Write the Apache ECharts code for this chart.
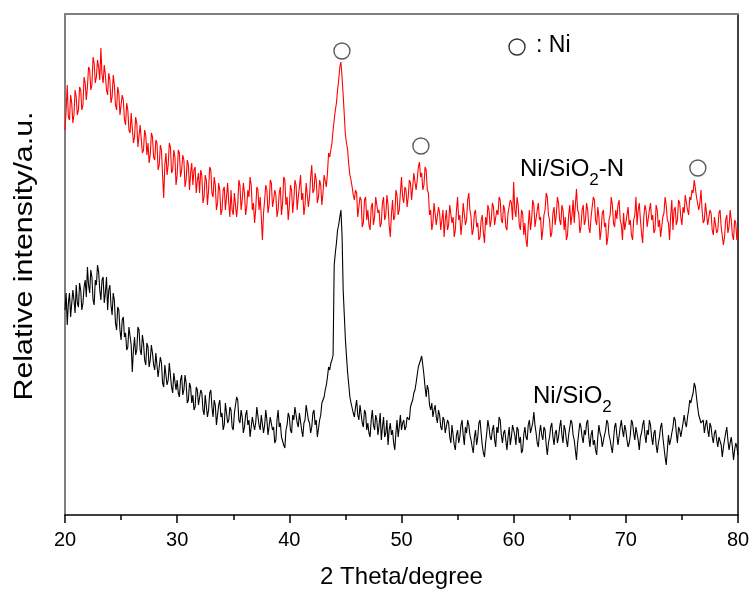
<!DOCTYPE html>
<html>
<head>
<meta charset="utf-8">
<script src="https://cdn.jsdelivr.net/npm/echarts@6/dist/echarts.min.js"></script>
<style>
  html, body { margin: 0; padding: 0; background: #fff; }
  #chart { width: 754px; height: 595px; }
</style>
</head>
<body>
<div id="chart"></div>
<script>
// 2θ sampling grid (degrees)
const thetaStart = 20;
const thetaStep = 0.1;

// Ni/SiO2-N (red), relative intensity, 10 values per degree (20.0 ... 80.0)
const ni_sio2_n = [
  385, 405, 430, 398, 395, 420, 412, 392, 400, 425,
  418, 400, 405, 428, 425, 405, 410, 438, 432, 415,
  428, 448, 445, 425, 430, 458, 452, 432, 438, 455,
  448, 435, 467, 440, 432, 450, 440, 425, 420, 442,
  435, 412, 418, 440, 430, 410, 405, 428, 422, 400,
  398, 420, 415, 395, 390, 412, 405, 385, 382, 402,
  400, 372, 378, 398, 392, 368, 370, 390, 388, 362,
  365, 385, 380, 360, 372, 352, 360, 382, 378, 358,
  355, 375, 372, 345, 350, 370, 365, 340, 317, 350,
  362, 340, 350, 372, 368, 342, 345, 365, 358, 330,
  340, 365, 362, 338, 345, 360, 355, 328, 335, 355,
  350, 325, 342, 352, 330, 345, 348, 322, 335, 342,
  322, 345, 340, 312, 318, 340, 335, 310, 325, 348,
  345, 322, 318, 338, 330, 305, 312, 332, 325, 300,
  305, 325, 328, 305, 318, 332, 312, 298, 325, 305,
  300, 322, 320, 298, 310, 335, 330, 305, 315, 332,
  322, 300, 308, 325, 318, 338, 330, 305, 312, 292,
  305, 328, 325, 305, 318, 298, 275, 302, 315, 330,
  325, 302, 310, 335, 332, 308, 315, 325, 320, 298,
  305, 322, 328, 300, 312, 338, 335, 310, 318, 295,
  308, 330, 325, 302, 315, 335, 330, 305, 318, 328,
  340, 315, 322, 300, 310, 332, 330, 308, 318, 338,
  350, 322, 325, 342, 335, 312, 318, 335, 330, 310,
  322, 340, 338, 328, 342, 362, 358, 365, 372, 385,
  395, 405, 412, 425, 435, 448, 453, 438, 420, 400,
  380, 372, 365, 350, 340, 335, 328, 320, 315, 325,
  322, 298, 300, 318, 315, 288, 292, 315, 318, 295,
  305, 290, 285, 308, 312, 290, 298, 318, 320, 302,
  305, 288, 292, 312, 318, 295, 300, 320, 310, 290,
  278, 300, 315, 295, 298, 325, 320, 300, 305, 322,
  338, 318, 312, 328, 325, 308, 318, 335, 332, 315,
  328, 342, 340, 325, 335, 348, 353, 338, 342, 325,
  330, 348, 345, 325, 322, 300, 305, 285, 292, 312,
  310, 290, 288, 308, 302, 285, 295, 305, 278, 295,
  305, 285, 290, 310, 312, 292, 298, 278, 285, 305,
  318, 295, 300, 280, 292, 312, 310, 290, 295, 315,
  322, 305, 298, 280, 285, 302, 305, 288, 292, 275,
  278, 295, 300, 282, 272, 298, 290, 310, 305, 288,
  295, 312, 308, 290, 288, 305, 300, 318, 315, 295,
  292, 310, 305, 288, 285, 302, 300, 315, 312, 295,
  333, 305, 298, 318, 310, 290, 285, 305, 302, 280,
  292, 275, 268, 290, 305, 285, 295, 315, 310, 288,
  290, 305, 312, 295, 298, 275, 285, 300, 305, 322,
  318, 300, 295, 278, 282, 302, 308, 290, 300, 318,
  312, 295, 290, 310, 305, 285, 298, 275, 280, 300,
  310, 290, 300, 315, 292, 310, 326, 305, 302, 282,
  288, 305, 310, 290, 295, 312, 305, 288, 282, 298,
  300, 318, 315, 295, 290, 308, 298, 275, 285, 302,
  305, 288, 292, 270, 278, 295, 300, 318, 310, 292,
  288, 305, 296, 310, 315, 295, 290, 275, 302, 285,
  285, 300, 308, 290, 295, 280, 275, 295, 300, 318,
  290, 305, 312, 295, 282, 272, 298, 310, 305, 288,
  290, 305, 312, 295, 300, 282, 285, 310, 305, 288,
  295, 278, 280, 298, 302, 318, 310, 295, 292, 275,
  300, 315, 285, 305, 308, 290, 295, 315, 312, 298,
  290, 308, 302, 320, 318, 305, 300, 318, 315, 325,
  322, 335, 333, 318, 320, 305, 312, 325, 305, 292,
  295, 312, 310, 290, 288, 305, 302, 285, 280, 298,
  298, 282, 285, 302, 305, 288, 290, 270, 278, 295,
  300, 282, 288, 305, 295, 280, 275, 295, 292, 275,
  285
];

// Ni/SiO2 (black)
const ni_sio2 = [
  205, 222, 190, 212, 222, 198, 200, 225, 215, 202,
  230, 212, 208, 232, 225, 205, 212, 228, 235, 218,
  248, 230, 222, 245, 238, 215, 210, 235, 230, 250,
  243, 225, 215, 235, 238, 212, 222, 238, 205, 225,
  230, 210, 200, 222, 215, 192, 185, 208, 205, 185,
  175, 195, 198, 178, 182, 165, 168, 188, 190, 170,
  143, 165, 178, 160, 165, 188, 185, 165, 160, 180,
  172, 155, 150, 172, 168, 148, 155, 170, 162, 150,
  145, 162, 160, 138, 140, 158, 152, 132, 128, 150,
  148, 130, 135, 152, 150, 128, 122, 142, 140, 125,
  135, 122, 118, 135, 140, 120, 125, 140, 132, 112,
  115, 132, 128, 112, 120, 105, 108, 128, 125, 110,
  112, 125, 122, 105, 100, 120, 118, 98, 105, 122,
  125, 108, 98, 115, 110, 90, 92, 110, 115, 98,
  102, 85, 90, 112, 110, 92, 95, 108, 105, 88,
  85, 102, 100, 118, 115, 95, 92, 105, 98, 82,
  88, 100, 105, 90, 95, 78, 80, 98, 100, 85,
  92, 108, 110, 90, 85, 100, 98, 82, 90, 105,
  95, 80, 82, 98, 100, 85, 88, 72, 75, 95,
  105, 88, 92, 78, 80, 70, 67, 85, 90, 102,
  98, 85, 82, 100, 95, 108, 110, 92, 88, 102,
  100, 85, 78, 92, 95, 110, 112, 95, 92, 82,
  88, 102, 105, 90, 95, 78, 80, 95, 100, 112,
  110, 118, 125, 130, 138, 148, 145, 152, 155, 160,
  250, 262, 272, 285, 290, 298, 305, 280, 225, 200,
  175, 158, 142, 130, 118, 112, 110, 102, 98, 108,
  115, 100, 95, 110, 108, 92, 88, 105, 102, 85,
  92, 82, 78, 95, 105, 90, 85, 100, 95, 80,
  90, 102, 75, 88, 98, 78, 82, 95, 70, 85,
  92, 80, 85, 72, 65, 82, 95, 78, 88, 100,
  85, 92, 95, 85, 88, 98, 100, 95, 108, 112,
  115, 122, 125, 132, 140, 148, 150, 155, 159, 150,
  140, 128, 118, 130, 125, 110, 105, 112, 98, 105,
  110, 98, 92, 105, 100, 88, 85, 98, 95, 82,
  80, 95, 92, 78, 72, 90, 88, 70, 65, 80,
  85, 72, 78, 90, 95, 80, 70, 88, 82, 95,
  90, 80, 75, 68, 62, 78, 85, 70, 78, 92,
  95, 82, 70, 62, 58, 72, 82, 95, 88, 78,
  75, 85, 90, 75, 68, 88, 82, 98, 95, 80,
  72, 82, 85, 75, 65, 78, 88, 70, 78, 90,
  92, 80, 70, 88, 85, 72, 78, 62, 65, 80,
  88, 78, 75, 90, 95, 82, 80, 92, 103, 90,
  82, 72, 68, 82, 90, 80, 75, 88, 85, 70,
  60, 72, 78, 88, 92, 78, 70, 82, 85, 72,
  78, 88, 95, 80, 72, 90, 85, 75, 68, 80,
  80, 95, 92, 80, 75, 65, 55, 72, 82, 92,
  88, 78, 72, 85, 80, 92, 95, 78, 68, 80,
  85, 70, 75, 65, 60, 78, 90, 82, 78, 68,
  70, 80, 85, 95, 92, 80, 75, 68, 62, 75,
  88, 92, 80, 70, 72, 88, 95, 85, 78, 90,
  85, 75, 68, 72, 80, 95, 92, 82, 75, 88,
  88, 75, 65, 78, 82, 90, 95, 80, 72, 85,
  80, 95, 90, 78, 70, 82, 85, 70, 62, 72,
  78, 88, 92, 78, 68, 58, 50, 65, 80, 70,
  75, 82, 88, 98, 95, 82, 72, 88, 85, 78,
  80, 92, 100, 92, 88, 98, 105, 115, 112, 118,
  122, 132, 128, 118, 108, 100, 98, 92, 90, 95,
  82, 90, 95, 85, 78, 92, 88, 78, 72, 82,
  85, 75, 68, 78, 80, 70, 58, 68, 75, 82,
  88, 75, 65, 72, 78, 68, 55, 65, 72, 68,
  60
];

// Ni reflection markers (open circles): [2θ, intensity]
const niMarks = [[44.69, 464], [51.73, 369], [76.42, 347]];

const xTicks = [20, 30, 40, 50, 60, 70, 80];

function toPairs(values) {
  return values.map((v, i) => [+(thetaStart + i * thetaStep).toFixed(2), v]);
}

const FONT = 'Arial, "Liberation Sans", sans-serif';
const measureCtx = document.createElement('canvas').getContext('2d');
function textWidth(str, size) {
  measureCtx.font = size + 'px ' + FONT;
  return measureCtx.measureText(str).width;
}

// text placed by its left edge and alphabetic baseline
function baselineText(str, x, baseline, size) {
  return {
    type: 'text', x: x, y: baseline - 0.3465 * size,
    style: { text: str, font: size + 'px ' + FONT, fill: '#000', align: 'left', verticalAlign: 'middle' }
  };
}

// label with a subscript "2" in the middle, e.g. Ni/SiO2-N
function subLabel(before, sub, after, x, baseline) {
  const big = 24, small = 17;
  const w1 = textWidth(before, big);
  const w2 = textWidth(sub, small);
  const items = [
    baselineText(before, x, baseline, big),
    baselineText(sub, x + w1, baseline + 8, small)
  ];
  if (after) items.push(baselineText(after, x + w1 + w2, baseline, big));
  return items;
}

const chart = echarts.init(document.getElementById('chart'), null, { renderer: 'canvas' });

chart.setOption({
  animation: false,
  backgroundColor: '#fff',
  grid: { left: 65, right: 16, top: 14, bottom: 80, show: false },
  xAxis: [{
    type: 'value',
    min: xTicks[0],
    max: xTicks[xTicks.length - 1],
    interval: 10,
    name: '2 Theta/degree',
    nameLocation: 'middle',
    nameGap: 50,
    nameTextStyle: { fontFamily: FONT, fontSize: 24, color: '#000' },
    axisLine: { lineStyle: { color: '#000', width: 1.5 } },
    axisTick: { inside: false, length: 8, lineStyle: { color: '#000', width: 1.5 } },
    minorTick: { show: true, splitNumber: 2, length: 5, lineStyle: { color: '#000', width: 1.5 } },
    axisLabel: { fontFamily: FONT, fontSize: 20, color: '#000', margin: 15 },
    splitLine: { show: false }
  }, {
    type: 'value',
    position: 'top',
    min: 20, max: 80,
    axisLine: { show: true, onZero: false, lineStyle: { color: '#7f7f7f', width: 2 } },
    axisTick: { show: false },
    axisLabel: { show: false },
    splitLine: { show: false }
  }],
  yAxis: [{
    type: 'value',
    min: 0,
    max: 501,
    axisLine: { show: true, lineStyle: { color: '#7f7f7f', width: 2 } },
    axisTick: { show: false },
    axisLabel: { show: false },
    splitLine: { show: false }
  }, {
    type: 'value',
    position: 'right',
    min: 0, max: 501,
    axisLine: { show: true, onZero: false, lineStyle: { color: '#000', width: 1.5 } },
    axisTick: { show: false },
    axisLabel: { show: false },
    splitLine: { show: false }
  }],
  series: [{
    name: 'Ni/SiO2-N',
    type: 'line',
    data: toPairs(ni_sio2_n),
    showSymbol: false,
    lineStyle: { color: '#ff0000', width: 1.1 },
    z: 3
  }, {
    name: 'Ni/SiO2',
    type: 'line',
    data: toPairs(ni_sio2),
    showSymbol: false,
    lineStyle: { color: '#000', width: 1.1 },
    z: 3
  }, {
    name: 'Ni',
    type: 'scatter',
    data: niMarks,
    symbol: 'circle',
    symbolSize: 16,
    itemStyle: { color: '#fff', borderColor: '#333', borderWidth: 1.4 },
    z: 4
  }],
  graphic: [
    // y axis title, slightly stretched like the original
    {
      type: 'text', x: 25, y: 256, rotation: Math.PI / 2, scaleX: 1.17,
      style: { text: 'Relative intensity/a.u.', font: '26px ' + FONT, fill: '#000', align: 'center', verticalAlign: 'middle' }
    },
    { type: 'circle', shape: { cx: 517, cy: 47, r: 8 }, style: { fill: '#fff', stroke: '#333', lineWidth: 1.4 } },
    baselineText(': Ni', 536, 54, 23)
  ]
    .concat(subLabel('Ni/SiO', '2', '-N', 520, 178))
    .concat(subLabel('Ni/SiO', '2', '', 533, 405))
});
</script>
</body>
</html>
